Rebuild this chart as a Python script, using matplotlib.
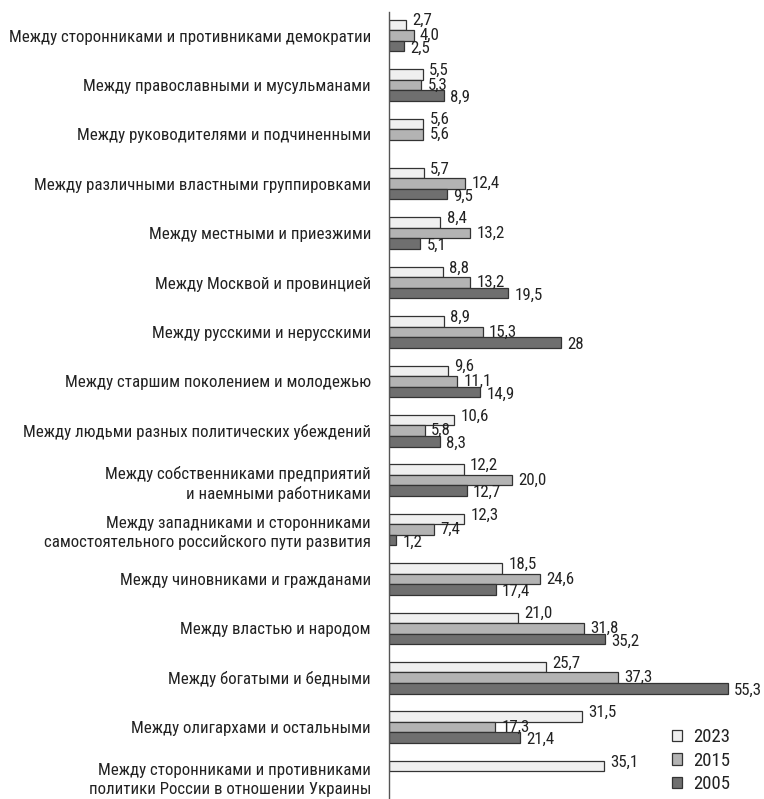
import matplotlib
matplotlib.use("Agg")
import matplotlib.pyplot as plt
from matplotlib.patches import Patch
import numpy as np

plt.rcParams["font.family"] = ["Roboto Condensed", "DejaVu Sans"]

categories = [
    "Между сторонниками и противниками демократии",
    "Между православными и мусульманами",
    "Между руководителями и подчиненными",
    "Между различными властными группировками",
    "Между местными и приезжими",
    "Между Москвой и провинцией",
    "Между русскими и нерусскими",
    "Между старшим поколением и молодежью",
    "Между людьми разных политических убеждений",
    "Между собственниками предприятий\nи наемными работниками",
    "Между западниками и сторонниками\nсамостоятельного российского пути развития",
    "Между чиновниками и гражданами",
    "Между властью и народом",
    "Между богатыми и бедными",
    "Между олигархами и остальными",
    "Между сторонниками и противниками\nполитики России в отношении Украины",
]

# None = no bar for that year
vals_2023 = [2.7, 5.5, 5.6, 5.7, 8.4, 8.8, 8.9, 9.6, 10.6, 12.2, 12.3, 18.5, 21.0, 25.7, 31.5, 35.1]
vals_2015 = [4.0, 5.3, 5.6, 12.4, 13.2, 13.2, 15.3, 11.1, 5.8, 20.0, 7.4, 24.6, 31.8, 37.3, 17.3, None]
vals_2005 = [2.5, 8.9, None, 9.5, 5.1, 19.5, 28, 14.9, 8.3, 12.7, 1.2, 17.4, 35.2, 55.3, 21.4, None]

labels_2023 = ["2,7", "5,5", "5,6", "5,7", "8,4", "8,8", "8,9", "9,6", "10,6", "12,2", "12,3", "18,5", "21,0", "25,7", "31,5", "35,1"]
labels_2015 = ["4,0", "5,3", "5,6", "12,4", "13,2", "13,2", "15,3", "11,1", "5,8", "20,0", "7,4", "24,6", "31,8", "37,3", "17,3", None]
labels_2005 = ["2,5", "8,9", None, "9,5", "5,1", "19,5", "28", "14,9", "8,3", "12,7", "1,2", "17,4", "35,2", "55,3", "21,4", None]

years = ["2023", "2015", "2005"]
colors = ["#efefef", "#b3b3b3", "#6f6f6f"]
edge = "#333333"
text_col = "#222222"

fig = plt.figure(figsize=(7.64, 7.99), dpi=100)
ax = fig.add_axes([389 / 764, 0, 1 - 389 / 764, 787 / 799])

y = np.arange(len(categories))
h = 0.213
series = [(vals_2023, labels_2023), (vals_2015, labels_2015), (vals_2005, labels_2005)]
dy_pts = [3, 0, -1.5]
fs = 12.2

for k, (vals, labs) in enumerate(series):
    offs = (k - 1) * h
    for i, (v, lab) in enumerate(zip(vals, labs)):
        if v is None:
            continue
        ax.barh(y[i] + offs, v, height=h, color=colors[k], edgecolor=edge, linewidth=0.9)
        ax.annotate(lab, (v, y[i] + offs), xytext=(4.5, dy_pts[k]), textcoords="offset points",
                    ha="left", va="center", fontsize=fs, color=text_col)

ax.set_xlim(0, 61.2)
ax.set_ylim(15.455, -0.476)
ax.set_yticks(y)
ax.set_yticklabels(categories, fontsize=fs, color=text_col, linespacing=1.3)
ax.tick_params(axis="y", length=0, pad=13)
ax.set_xticks([])
for s in ["top", "right", "bottom"]:
    ax.spines[s].set_visible(False)
ax.spines["left"].set_color("#555555")
ax.spines["left"].set_linewidth(1.0)
ax.patch.set_alpha(0)

handles = [Patch(facecolor=c, edgecolor=edge, linewidth=0.9) for c in colors]
fig.legend(handles, years, loc="upper left", bbox_to_anchor=(672 / 764, 1 - 728 / 799),
           frameon=False, fontsize=13.5, handlelength=0.55, handleheight=0.55,
           handletextpad=0.55, labelspacing=0.3, borderpad=0, borderaxespad=0,
           labelcolor=text_col)

fig.savefig("out.png", dpi=100)
